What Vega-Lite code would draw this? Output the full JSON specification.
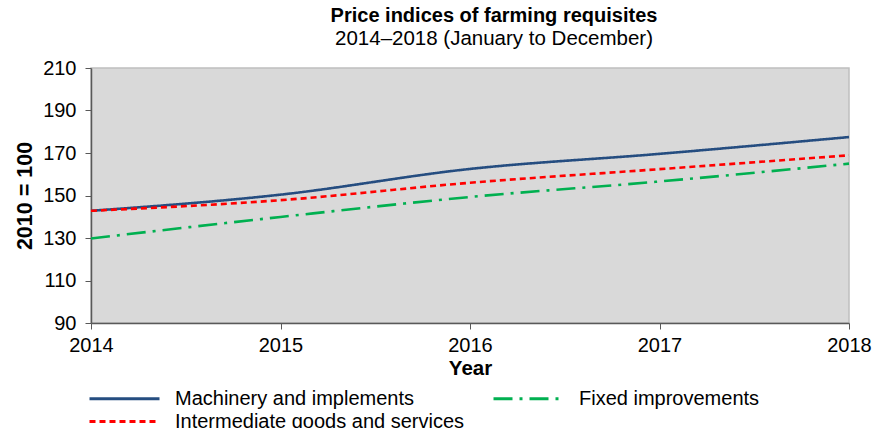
{
  "$schema": "https://vega.github.io/schema/vega-lite/v6.json",
  "autosize": "none",
  "width": 758,
  "height": 255,
  "padding": {"left": 91, "top": 68, "right": 26, "bottom": 105},
  "background": "white",
  "config": {
    "font": "Liberation Sans",
    "view": {"fill": "#d9d9d9", "stroke": "#bfbfbf", "strokeWidth": 1.5}
  },
  "title": {
    "text": "Price indices of farming requisites",
    "subtitle": "2014–2018 (January to December)",
    "anchor": "middle",
    "dx": 24,
    "fontSize": 20,
    "fontWeight": "bold",
    "color": "black",
    "subtitleFontSize": 20.5,
    "subtitleColor": "black",
    "subtitlePadding": 3,
    "offset": 9,
    "font": "Liberation Sans",
    "subtitleFont": "Liberation Sans"
  },
  "data": {
    "values": [
      {"year": 2014, "series": "Machinery and implements", "value": 142.8},
      {"year": 2015, "series": "Machinery and implements", "value": 150.4},
      {"year": 2016, "series": "Machinery and implements", "value": 162.5},
      {"year": 2017, "series": "Machinery and implements", "value": 169.6},
      {"year": 2018, "series": "Machinery and implements", "value": 177.5},
      {"year": 2014, "series": "Intermediate goods and services", "value": 142.8},
      {"year": 2015, "series": "Intermediate goods and services", "value": 147.8},
      {"year": 2016, "series": "Intermediate goods and services", "value": 156.0},
      {"year": 2017, "series": "Intermediate goods and services", "value": 162.4},
      {"year": 2018, "series": "Intermediate goods and services", "value": 168.9},
      {"year": 2014, "series": "Fixed improvements", "value": 129.8},
      {"year": 2015, "series": "Fixed improvements", "value": 139.9},
      {"year": 2016, "series": "Fixed improvements", "value": 149.3},
      {"year": 2017, "series": "Fixed improvements", "value": 156.6},
      {"year": 2018, "series": "Fixed improvements", "value": 165.0}
    ]
  },
  "mark": {"type": "line", "interpolate": "monotone", "strokeWidth": 2.6},
  "encoding": {
    "x": {
      "field": "year",
      "type": "quantitative",
      "scale": {"domain": [2014, 2018], "nice": false, "zero": false},
      "axis": {
        "values": [2014, 2015, 2016, 2017, 2018],
        "format": "d",
        "title": "Year",
        "titleFontSize": 20.5,
        "titleFontWeight": "bold",
        "titleColor": "black",
        "titlePadding": 3,
        "labelFontSize": 20,
        "labelColor": "black",
        "labelPadding": 6,
        "labelFlush": false,
        "grid": false,
        "domainColor": "#595959",
        "domainWidth": 1.5,
        "tickColor": "#595959",
        "tickSize": 6
      }
    },
    "y": {
      "field": "value",
      "type": "quantitative",
      "scale": {"domain": [90, 210], "nice": false, "zero": false},
      "axis": {
        "values": [90, 110, 130, 150, 170, 190, 210],
        "title": "2010 = 100",
        "titleFontSize": 21.5,
        "titleFontWeight": "bold",
        "titleColor": "black",
        "titlePadding": 6,
        "labelFontSize": 20,
        "labelColor": "black",
        "labelPadding": 9,
        "grid": false,
        "domainColor": "#595959",
        "domainWidth": 1.5,
        "tickColor": "#595959",
        "tickSize": 6
      }
    },
    "color": {
      "field": "series",
      "type": "nominal",
      "scale": {
        "domain": ["Machinery and implements", "Intermediate goods and services", "Fixed improvements"],
        "range": ["#254d80", "#ff0000", "#00b050"]
      },
      "legend": {
        "title": null,
        "orient": "none",
        "legendX": 22,
        "legendY": 319,
        "columns": 2,
        "columnPadding": 22,
        "rowPadding": 1,
        "symbolType": "M-3.5,0H3.5",
        "symbolSize": 400,
        "symbolStrokeWidth": 2.8,
        "labelFontSize": 20,
        "labelColor": "black",
        "labelOffset": 39,
        "labelLimit": 400
      }
    },
    "strokeDash": {
      "field": "series",
      "type": "nominal",
      "scale": {
        "domain": ["Machinery and implements", "Intermediate goods and services", "Fixed improvements"],
        "range": [[1, 0], [6, 4], [19, 7, 3, 7]]
      },
      "legend": null
    }
  }
}
